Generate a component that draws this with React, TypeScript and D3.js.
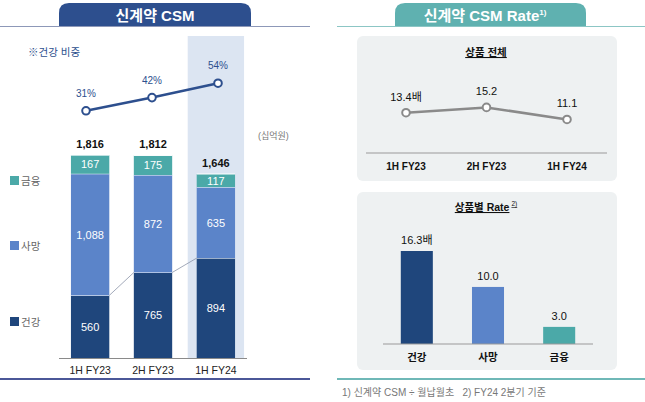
import { useEffect, useRef } from "react";
import * as d3 from "d3";

const PERIODS = ["1H FY23", "2H FY23", "1H FY24"];
const SEGMENTS = [
  { key: "health", label: "건강", color: "#1f467c" },
  { key: "death", label: "사망", color: "#5b84c9" },
  { key: "finance", label: "금융", color: "#4ba9a8" },
];
const HEALTH = [560, 765, 894];
const DEATH = [1088, 872, 635];
const FINANCE = [167, 175, 117];
const TOTALS = [1816, 1812, 1646];
const HEALTH_SHARE = [31, 42, 54];

const RATE_TOTAL = [13.4, 15.2, 11.1];
const RATE_LABELS = ["13.4배", "15.2", "11.1"];
const PRODUCTS = ["건강", "사망", "금융"];
const PRODUCT_RATE = [16.3, 10.0, 3.0];
const PRODUCT_LABELS = ["16.3배", "10.0", "3.0"];

const FONT = "'Liberation Sans', 'Noto Sans CJK KR', sans-serif";

export default function App() {
  const svgRef = useRef<SVGSVGElement>(null);

  useEffect(() => {
    document.body.style.margin = "0";
    if (!svgRef.current) return;
    const svg = d3.select(svgRef.current);
    svg.selectAll("*").remove();

    // ---------- left panel ----------
    const tab = (x: number, w: number, color: string) => {
      const r = 10;
      svg.append("path")
        .attr("d", `M${x},27 V${3 + r} Q${x},3 ${x + r},3 H${x + w - r} Q${x + w},3 ${x + w},${3 + r} V27 Z`)
        .attr("fill", color);
    };
    tab(59, 192, "#2d4f8e");
    svg.append("line").attr("x1", 0).attr("x2", 310).attr("y1", 26.5).attr("y2", 26.5)
      .attr("stroke", "#8d98b8").attr("stroke-width", 1);
    svg.append("text").attr("x", 155).attr("y", 21).attr("text-anchor", "middle")
      .attr("fill", "#fff").attr("font-size", 15).attr("font-weight", 700).attr("font-family", FONT)
      .text("신계약 CSM");

    const x = d3.scaleBand().domain(PERIODS).range([59, 247]).paddingInner(0.39).paddingOuter(0.19);
    const y = d3.scaleLinear().domain([0, 1816]).range([358, 155]);
    const cxs = PERIODS.map(p => (x(p) ?? 0) + x.bandwidth() / 2);

    // highlight latest period
    svg.append("rect")
      .attr("x", (x(PERIODS[2]) ?? 0) - 9).attr("y", 36)
      .attr("width", x.bandwidth() + 18).attr("height", 322)
      .attr("fill", "#dce5f2");

    svg.append("text").attr("x", 28).attr("y", 56)
      .attr("fill", "#2d4f8e").attr("font-size", 10.5).attr("font-family", FONT)
      .text("※건강 비중");

    // stacked bars
    const rows = PERIODS.map((p, i) => ({ period: p, health: HEALTH[i], death: DEATH[i], finance: FINANCE[i] }));
    const stack = d3.stack<any>().keys(SEGMENTS.map(s => s.key))(rows);
    stack.forEach((layer, li) => {
      const seg = SEGMENTS[li];
      layer.forEach((d, i) => {
        const top = y(d[1]);
        const bottom = y(d[0]);
        svg.append("rect")
          .attr("x", x(PERIODS[i]) ?? 0).attr("y", top)
          .attr("width", x.bandwidth()).attr("height", bottom - top)
          .attr("fill", seg.color);
        svg.append("line")
          .attr("x1", x(PERIODS[i]) ?? 0).attr("x2", (x(PERIODS[i]) ?? 0) + x.bandwidth())
          .attr("y1", top).attr("y2", top).attr("stroke", "#fff").attr("stroke-width", 1);
        svg.append("text")
          .attr("x", cxs[i]).attr("y", (top + bottom) / 2 + 4)
          .attr("text-anchor", "middle").attr("fill", "#fff")
          .attr("font-size", 11).attr("font-family", FONT)
          .text(d3.format(",")(d[1] - d[0]));
      });
    });

    // connectors between health segments
    for (let i = 0; i < PERIODS.length - 1; i++) {
      svg.append("line")
        .attr("x1", (x(PERIODS[i]) ?? 0) + x.bandwidth()).attr("y1", y(HEALTH[i]))
        .attr("x2", x(PERIODS[i + 1]) ?? 0).attr("y2", y(HEALTH[i + 1]))
        .attr("stroke", "#8b94a8").attr("stroke-width", 0.8);
    }

    // totals
    TOTALS.forEach((t, i) => {
      svg.append("text")
        .attr("x", cxs[i]).attr("y", y(t) - 7)
        .attr("text-anchor", "middle").attr("fill", "#111")
        .attr("font-size", 11).attr("font-weight", 700).attr("font-family", FONT)
        .text(d3.format(",")(t));
    });

    // baseline + x labels
    svg.append("line").attr("x1", 59).attr("x2", 247).attr("y1", 358.5).attr("y2", 358.5)
      .attr("stroke", "#8a8a8a").attr("stroke-width", 1.2);
    PERIODS.forEach((p, i) => {
      svg.append("text").attr("x", cxs[i]).attr("y", 374)
        .attr("text-anchor", "middle").attr("fill", "#222")
        .attr("font-size", 10.5).attr("font-family", FONT).text(p);
    });

    svg.append("text").attr("x", 258).attr("y", 139)
      .attr("fill", "#777").attr("font-size", 9).attr("font-family", FONT).text("(십억원)");

    // legend
    const legendY = [181, 246, 322];
    [SEGMENTS[2], SEGMENTS[1], SEGMENTS[0]].forEach((s, i) => {
      svg.append("rect").attr("x", 10).attr("y", legendY[i] - 5).attr("width", 9).attr("height", 9).attr("fill", s.color);
      svg.append("text").attr("x", 21).attr("y", legendY[i] + 4)
        .attr("fill", "#666").attr("font-size", 10.5).attr("font-family", FONT).text(s.label);
    });

    // health share line
    const xs = d3.scalePoint().domain(PERIODS).range([86, 218]);
    const yShare = d3.scaleLinear().domain([0, 100]).range([148, 28]);
    const shareLine = d3.line<number>().x((_, i) => xs(PERIODS[i]) ?? 0).y(d => yShare(d));
    svg.append("path").datum(HEALTH_SHARE).attr("d", shareLine)
      .attr("fill", "none").attr("stroke", "#2d4f8e").attr("stroke-width", 2.5);
    HEALTH_SHARE.forEach((v, i) => {
      const px = xs(PERIODS[i]) ?? 0;
      svg.append("circle").attr("cx", px).attr("cy", yShare(v)).attr("r", 3.8)
        .attr("fill", "#fff").attr("stroke", "#2d4f8e").attr("stroke-width", 2);
      svg.append("text").attr("x", px).attr("y", yShare(v) - 14)
        .attr("text-anchor", "middle").attr("fill", "#2d4f8e")
        .attr("font-size", 10).attr("font-family", FONT).text(`${v}%`);
    });

    svg.append("line").attr("x1", 0).attr("x2", 310).attr("y1", 379).attr("y2", 379)
      .attr("stroke", "#4b5798").attr("stroke-width", 2);

    // ---------- right panel ----------
    tab(395, 191, "#5fb1b0");
    svg.append("line").attr("x1", 337).attr("x2", 645).attr("y1", 26.5).attr("y2", 26.5)
      .attr("stroke", "#8cc6c5").attr("stroke-width", 1);
    const title = svg.append("text").attr("x", 485).attr("y", 21).attr("text-anchor", "middle")
      .attr("fill", "#fff").attr("font-size", 15).attr("font-weight", 700).attr("font-family", FONT);
    title.append("tspan").text("신계약 CSM Rate");
    title.append("tspan").attr("font-size", 8).attr("dy", -6).text("1)");

    const box = (y0: number, h: number) =>
      svg.append("rect").attr("x", 357).attr("y", y0).attr("width", 260).attr("height", h)
        .attr("rx", 6).attr("fill", "#eef1f2");
    box(36, 145);
    box(192, 178);

    const heading = (yy: number, label: string, sup?: string) => {
      const t = svg.append("text").attr("x", 486).attr("y", yy).attr("text-anchor", "middle")
        .attr("fill", "#111").attr("font-size", 10.5).attr("font-weight", 700)
        .attr("text-decoration", "underline").attr("font-family", FONT);
      t.append("tspan").text(label);
      if (sup) t.append("tspan").attr("font-size", 6.5).attr("dy", -5).attr("dx", 2)
        .attr("font-weight", 400).attr("text-decoration", "none").text(sup);
    };
    heading(56, "상품 전체");
    heading(211, "상품별 Rate", "2)");

    // total rate line
    const xr = d3.scalePoint().domain(PERIODS).range([406, 567]);
    const yr = d3.scaleLinear().domain([0, 30]).range([152, 64]);
    const rateLine = d3.line<number>().x((_, i) => xr(PERIODS[i]) ?? 0).y(d => yr(d));
    svg.append("path").datum(RATE_TOTAL).attr("d", rateLine)
      .attr("fill", "none").attr("stroke", "#8a8a8a").attr("stroke-width", 2.5);
    RATE_TOTAL.forEach((v, i) => {
      const px = xr(PERIODS[i]) ?? 0;
      svg.append("circle").attr("cx", px).attr("cy", yr(v)).attr("r", 3.8)
        .attr("fill", "#fff").attr("stroke", "#8a8a8a").attr("stroke-width", 2);
      svg.append("text").attr("x", px).attr("y", yr(v) - 12)
        .attr("text-anchor", "middle").attr("fill", "#111")
        .attr("font-size", 11).attr("font-family", FONT).text(RATE_LABELS[i]);
    });
    svg.append("line").attr("x1", 366).attr("x2", 607).attr("y1", 153).attr("y2", 153)
      .attr("stroke", "#999").attr("stroke-width", 1.2);
    PERIODS.forEach((p) => {
      svg.append("text").attr("x", xr(p) ?? 0).attr("y", 170)
        .attr("text-anchor", "middle").attr("fill", "#111").attr("font-weight", 700)
        .attr("font-size", 10).attr("font-family", FONT).text(p);
    });

    // product rate bars
    const xb = d3.scaleBand().domain(PRODUCTS).range([383, 593]).paddingInner(0.55).paddingOuter(0.25);
    const yb = d3.scaleLinear().domain([0, 16.3]).range([344, 251]);
    const colors = [SEGMENTS[0].color, SEGMENTS[1].color, SEGMENTS[2].color];
    PRODUCTS.forEach((p, i) => {
      const bx = xb(p) ?? 0;
      svg.append("rect").attr("x", bx).attr("y", yb(PRODUCT_RATE[i]))
        .attr("width", xb.bandwidth()).attr("height", 344 - yb(PRODUCT_RATE[i]))
        .attr("fill", colors[i]);
      svg.append("text").attr("x", bx + xb.bandwidth() / 2).attr("y", yb(PRODUCT_RATE[i]) - 7)
        .attr("text-anchor", "middle").attr("fill", "#111")
        .attr("font-size", 11).attr("font-family", FONT).text(PRODUCT_LABELS[i]);
      svg.append("text").attr("x", bx + xb.bandwidth() / 2).attr("y", 361)
        .attr("text-anchor", "middle").attr("fill", "#111").attr("font-weight", 700)
        .attr("font-size", 10.5).attr("font-family", FONT).text(p);
    });
    svg.append("line").attr("x1", 383).attr("x2", 593).attr("y1", 344).attr("y2", 344)
      .attr("stroke", "#999").attr("stroke-width", 1.2);

    svg.append("line").attr("x1", 337).attr("x2", 645).attr("y1", 379).attr("y2", 379)
      .attr("stroke", "#6fb8b7").attr("stroke-width", 2);
    svg.append("text").attr("x", 342).attr("y", 396)
      .attr("fill", "#777").attr("font-size", 10).attr("font-family", FONT)
      .attr("xml:space", "preserve")
      .text("1) 신계약 CSM ÷ 월납월초   2) FY24 2분기 기준");
  }, []);

  return <svg ref={svgRef} width={645} height={402} style={{ display: "block", background: "#fff" }} />;
}
